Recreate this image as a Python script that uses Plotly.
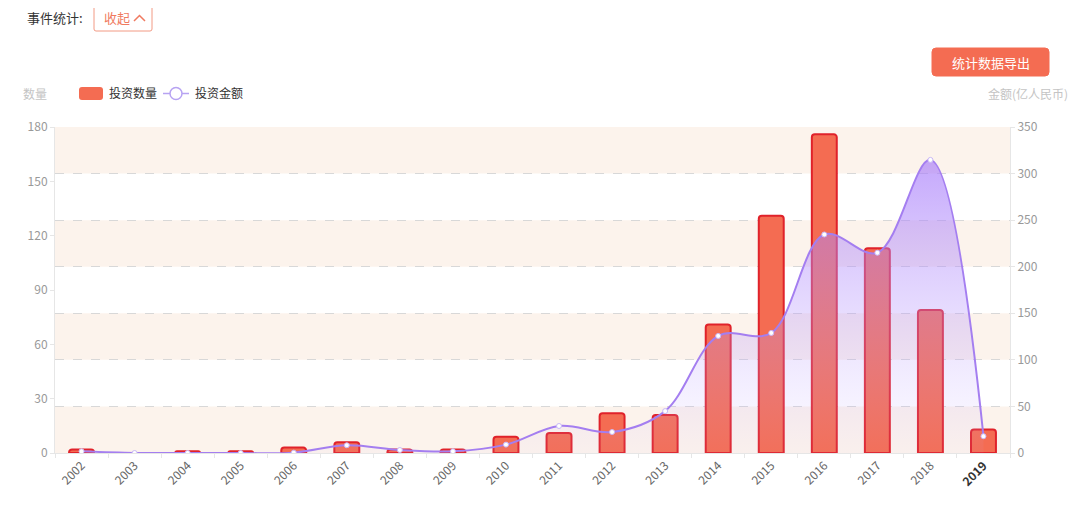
import plotly.graph_objects as go

# data
years = [str(y) for y in range(2002, 2020)]
counts = [2, 0, 1, 1, 3, 6, 2, 2, 9, 11, 22, 21, 71, 131, 176, 113, 79, 13]
amounts = [1.8, 0, 0, 0, 0.4, 8.3, 3.2, 1.8, 9, 29, 22.5, 45, 125.7, 128.9, 234.6, 215, 314.7, 18]
left_ticks = [0, 30, 60, 90, 120, 150, 180]
right_ticks = [0, 50, 100, 150, 200, 250, 300, 350]

# 2019 is highlighted on the axis
tick_text = [y if y != '2019' else "<b><span style='color:#333'>2019</span></b>" for y in years]

FONT = 'Noto Sans CJK SC'
BAR_FILL = '#f46c52'
BAR_LINE = '#e0222a'
LINE = '#a47ef0'

fig = go.Figure()

fig.add_trace(go.Bar(
    x=years, y=counts, name='投资数量',
    marker=dict(color=BAR_FILL, line=dict(color=BAR_LINE, width=2)),
    yaxis='y',
))

fig.add_trace(go.Scatter(
    x=years, y=amounts, name='投资金额',
    mode='lines+markers',
    line=dict(color=LINE, width=2, shape='spline', smoothing=1),
    marker=dict(size=5, color='white', line=dict(color='#c9b8f6', width=1)),
    fill='tozeroy',
    fillgradient=dict(type='vertical', colorscale=[
        [0, 'rgba(200,180,255,0.05)'],
        [1, 'rgba(165,120,250,0.65)'],
    ]),
    yaxis='y2',
))


# the page puts the figure 8px in from the corner, so the figure is 1072x523
# and all positions below are given in screenshot pixels.
# plot area spans x 55..1010, y 127..453 px of the screenshot
def px(xp):
    return (xp - 55) / 955


def py(yp):
    return (453 - yp) / 326


def rounded_rect(x0, y0, x1, y1, r):
    return (f'M {px(x0 + r)},{py(y0)} L {px(x1 - r)},{py(y0)} '
            f'Q {px(x1)},{py(y0)} {px(x1)},{py(y0 + r)} '
            f'L {px(x1)},{py(y1 - r)} Q {px(x1)},{py(y1)} {px(x1 - r)},{py(y1)} '
            f'L {px(x0 + r)},{py(y1)} Q {px(x0)},{py(y1)} {px(x0)},{py(y1 - r)} '
            f'L {px(x0)},{py(y0 + r)} Q {px(x0)},{py(y0)} {px(x0 + r)},{py(y0)} Z')


# alternating background bands between the right-axis gridlines
shapes = []
for i in range(len(right_ticks) - 1):
    if (len(right_ticks) - 2 - i) % 2 == 0:
        shapes.append(dict(type='rect', xref='paper', yref='y2', x0=0, x1=1,
                           y0=right_ticks[i], y1=right_ticks[i + 1],
                           fillcolor='#fcf3ec', line=dict(width=0), layer='below'))

# header buttons
shapes.append(dict(type='path', xref='paper', yref='paper',
                   path=rounded_rect(94, 5, 152, 31, 2),
                   line=dict(color='#f29a84', width=1), fillcolor='white'))
shapes.append(dict(type='path', xref='paper', yref='paper',
                   path=f'M {px(134)},{py(21)} L {px(139.5)},{py(15.5)} L {px(145)},{py(21)}',
                   line=dict(color='#f07a60', width=1.5)))
shapes.append(dict(type='path', xref='paper', yref='paper',
                   path=rounded_rect(932, 48, 1049, 76, 4),
                   line=dict(color='#f46c52', width=1), fillcolor='#f46c52'))

# custom legend
shapes.append(dict(type='path', xref='paper', yref='paper',
                   path=rounded_rect(79, 87, 103, 100, 3),
                   line=dict(color=BAR_FILL, width=0), fillcolor=BAR_FILL))
shapes.append(dict(type='line', xref='paper', yref='paper',
                   x0=px(163), x1=px(189), y0=py(93.5), y1=py(93.5),
                   line=dict(color='#b7a3f2', width=1.5)))
shapes.append(dict(type='circle', xref='paper', yref='paper',
                   x0=px(170), x1=px(182), y0=py(99.5), y1=py(87.5),
                   line=dict(color='#b7a3f2', width=1.5), fillcolor='white'))

annotations = [
    dict(text='事件统计:', x=px(25), y=py(18), xanchor='left', yanchor='middle',
         font=dict(size=13, color='#333')),
    dict(text='收起', x=px(117), y=py(18), xanchor='center', yanchor='middle',
         font=dict(size=13, color='#f07a60')),
    dict(text='统计数据导出', x=px(990.5), y=py(62), xanchor='center', yanchor='middle',
         font=dict(size=13, color='white')),
    dict(text='数量', x=px(35), y=py(94), xanchor='center', yanchor='middle',
         font=dict(size=12, color='#c4c4c4')),
    dict(text='金额(亿人民币)', x=px(1070), y=py(94), xanchor='right', yanchor='middle',
         font=dict(size=12, color='#c4c4c4')),
    dict(text='投资数量', x=px(107), y=py(93), xanchor='left', yanchor='middle',
         font=dict(size=12, color='#333')),
    dict(text='投资金额', x=px(193), y=py(93), xanchor='left', yanchor='middle',
         font=dict(size=12, color='#333')),
]
for a in annotations:
    a.update(xref='paper', yref='paper', showarrow=False)

fig.update_layout(
    width=1072, height=523,
    margin=dict(l=47, r=70, t=119, b=78),
    paper_bgcolor='white', plot_bgcolor='white',
    font=dict(family=FONT, size=12, color='#888'),
    bargap=0.53,
    barcornerradius=3,
    showlegend=False,
    xaxis=dict(
        type='category', tickvals=years, ticktext=tick_text, tickangle=-45,
        tickfont=dict(size=12, color='#666'),
        showline=True, linecolor='#e6e6e6', ticks='outside', tickson='boundaries',
        tickcolor='#e6e6e6', ticklen=4, showgrid=False,
    ),
    yaxis=dict(
        range=[0, 180], tickvals=left_ticks, showgrid=False, zeroline=False,
        showline=True, linecolor='#e6e6e6', ticks='outside', tickcolor='#e6e6e6', ticklen=4,
        tickfont=dict(size=12, color='#999'),
    ),
    yaxis2=dict(
        range=[0, 350], tickvals=right_ticks, overlaying='y', side='right',
        showgrid=True, gridcolor='#d8d8d8', griddash='dash', gridwidth=1, zeroline=False,
        showline=True, linecolor='#e6e6e6', ticks='outside', tickcolor='#e6e6e6', ticklen=4,
        tickfont=dict(size=12, color='#999'),
    ),
    shapes=shapes,
    annotations=annotations,
)

fig.write_html('out.html')
